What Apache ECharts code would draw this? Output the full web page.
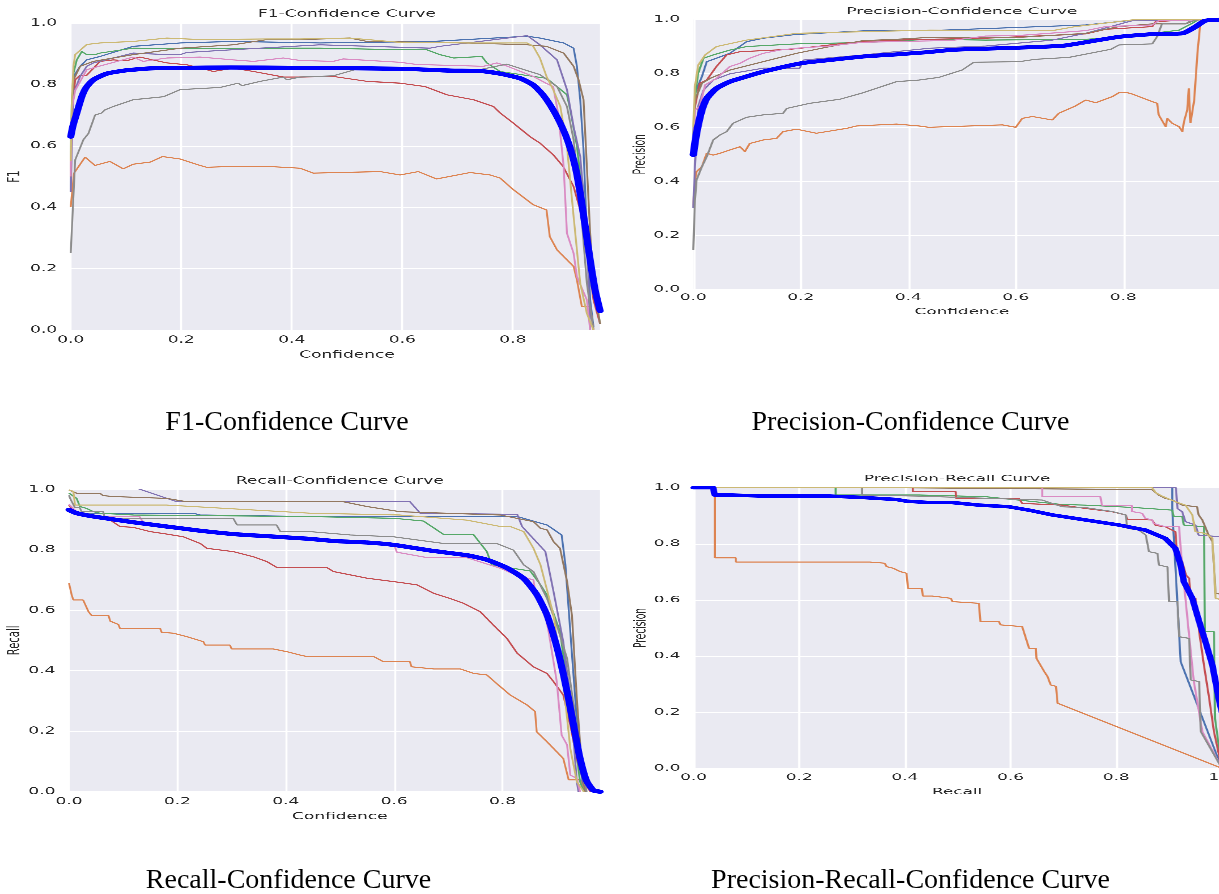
<!DOCTYPE html>
<html>
<head>
<meta charset="utf-8">
<script src="https://cdn.jsdelivr.net/npm/echarts@6/dist/echarts.min.js"></script>
<style>
html, body { margin: 0; padding: 0; width: 1219px; height: 894px; overflow: hidden; background: #fff; }
#captions { position: absolute; left: 0; top: 0; width: 1219px; height: 894px; }
.panel { position: absolute; transform-origin: 0 0; }
</style>
</head>
<body>
<div id="captions"></div>
<div id="p1" class="panel"></div>
<div id="p2" class="panel"></div>
<div id="p3" class="panel"></div>
<div id="p4" class="panel"></div>
<script>
// class colours (seaborn deep), thick blue = all classes
const classColors = ['#4C72B0', '#DD8452', '#55A868', '#C44E52', '#8172B3', '#937860', '#DA8BC3', '#8C8C8C', '#CCB974'];
const allColor = '#0000FF';
const textColor = '#262626';
const tickValues = [0, 0.2, 0.4, 0.6, 0.8, 1.0];

const panelTitles = ['F1-Confidence Curve', 'Precision-Confidence Curve', 'Recall-Confidence Curve', 'Precision-Recall Curve'];
const xNames = ['Confidence', 'Confidence', 'Confidence', 'Recall'];
const yNames = ['F1', 'Precision', 'Recall', 'Precision'];
const captions = ['F1-Confidence Curve', 'Precision-Confidence Curve', 'Recall-Confidence Curve', 'Precision-Recall-Confidence Curve'];

// ---- F1 - confidence ----
const f1All = [[0,0.63],[0.004,0.665],[0.011,0.707],[0.02,0.76],[0.028,0.79],[0.041,0.815],[0.065,0.835],[0.101,0.846],[0.144,0.852],[0.2,0.854],[0.29,0.855],[0.415,0.854],[0.596,0.851],[0.687,0.845],[0.74,0.844],[0.777,0.835],[0.813,0.82],[0.837,0.798],[0.855,0.765],[0.873,0.717],[0.889,0.662],[0.901,0.608],[0.913,0.532],[0.922,0.445],[0.931,0.337],[0.94,0.228],[0.949,0.13],[0.958,0.062]];
const f1Cls0 = [[0,0.45],[0.002,0.72],[0.005,0.826],[0.017,0.859],[0.029,0.88],[0.053,0.891],[0.113,0.924],[0.198,0.935],[0.294,0.94],[0.451,0.935],[0.656,0.94],[0.826,0.957],[0.849,0.951],[0.892,0.935],[0.91,0.918],[0.916,0.859],[0.922,0.75],[0.928,0.587],[0.934,0.315],[0.94,0.098],[0.946,0.01]];
const f1Cls1 = [[0,0.40],[0.003,0.46],[0.006,0.511],[0.026,0.563],[0.044,0.536],[0.071,0.549],[0.095,0.525],[0.113,0.54],[0.144,0.547],[0.166,0.565],[0.198,0.557],[0.234,0.536],[0.246,0.53],[0.294,0.533],[0.355,0.533],[0.415,0.527],[0.439,0.511],[0.56,0.516],[0.596,0.505],[0.629,0.516],[0.662,0.492],[0.723,0.513],[0.759,0.505],[0.777,0.495],[0.801,0.457],[0.837,0.408],[0.861,0.391],[0.867,0.304],[0.88,0.261],[0.91,0.207],[0.916,0.163],[0.925,0.076],[0.94,0.076],[0.946,0]];
const f1Cls2 = [[0,0.55],[0.002,0.75],[0.005,0.837],[0.011,0.88],[0.02,0.907],[0.029,0.897],[0.044,0.897],[0.053,0.902],[0.113,0.918],[0.234,0.916],[0.355,0.918],[0.451,0.918],[0.596,0.913],[0.644,0.913],[0.668,0.897],[0.693,0.886],[0.744,0.891],[0.753,0.87],[0.777,0.842],[0.837,0.826],[0.861,0.82],[0.88,0.793],[0.898,0.766],[0.904,0.717],[0.916,0.6],[0.928,0.402],[0.94,0.207],[0.952,0.076],[0.958,0.02]];
const f1Cls3 = [[0,0.5],[0.002,0.70],[0.008,0.815],[0.017,0.83],[0.029,0.83],[0.053,0.875],[0.077,0.88],[0.101,0.877],[0.125,0.889],[0.174,0.87],[0.21,0.864],[0.246,0.848],[0.258,0.842],[0.294,0.853],[0.331,0.842],[0.385,0.824],[0.415,0.824],[0.475,0.826],[0.536,0.81],[0.596,0.804],[0.641,0.793],[0.681,0.766],[0.729,0.75],[0.765,0.728],[0.777,0.707],[0.801,0.674],[0.831,0.63],[0.849,0.609],[0.873,0.571],[0.891,0.533],[0.91,0.467],[0.922,0.391],[0.934,0.261],[0.946,0.098],[0.958,0.02]];
const f1Cls4 = [[0,0.45],[0.002,0.6],[0.005,0.77],[0.017,0.826],[0.029,0.859],[0.041,0.87],[0.113,0.902],[0.174,0.897],[0.198,0.897],[0.21,0.904],[0.294,0.913],[0.451,0.929],[0.65,0.918],[0.668,0.924],[0.826,0.959],[0.849,0.929],[0.88,0.88],[0.898,0.783],[0.91,0.663],[0.922,0.565],[0.934,0.315],[0.94,0]];
const f1Cls5 = [[0,0.5],[0.002,0.7],[0.005,0.815],[0.017,0.859],[0.041,0.875],[0.113,0.897],[0.198,0.918],[0.294,0.929],[0.355,0.946],[0.415,0.946],[0.505,0.951],[0.536,0.94],[0.717,0.935],[0.826,0.929],[0.861,0.924],[0.892,0.902],[0.91,0.859],[0.919,0.815],[0.928,0.75],[0.934,0.533],[0.94,0.315],[0.946,0.152],[0.958,0.02]];
const f1Cls6 = [[0,0.5],[0.002,0.72],[0.008,0.78],[0.029,0.848],[0.053,0.86],[0.113,0.889],[0.131,0.875],[0.174,0.886],[0.234,0.889],[0.294,0.88],[0.331,0.875],[0.385,0.886],[0.415,0.878],[0.475,0.875],[0.493,0.883],[0.596,0.872],[0.626,0.865],[0.747,0.859],[0.771,0.87],[0.789,0.86],[0.837,0.826],[0.86,0.804],[0.873,0.793],[0.882,0.707],[0.892,0.533],[0.898,0.315],[0.91,0.25],[0.916,0.174],[0.934,0.098],[0.94,0]];
const f1Cls7 = [[0,0.25],[0.008,0.554],[0.023,0.62],[0.032,0.64],[0.044,0.70],[0.056,0.707],[0.062,0.717],[0.077,0.728],[0.113,0.75],[0.168,0.76],[0.198,0.783],[0.27,0.79],[0.303,0.804],[0.31,0.796],[0.343,0.81],[0.385,0.824],[0.391,0.815],[0.415,0.824],[0.475,0.828],[0.524,0.853],[0.596,0.848],[0.693,0.848],[0.74,0.848],[0.789,0.866],[0.831,0.842],[0.849,0.832],[0.88,0.793],[0.898,0.728],[0.91,0.62],[0.922,0.424],[0.934,0.152],[0.946,0]];
const f1Cls8 = [[0,0.55],[0.002,0.75],[0.005,0.86],[0.008,0.897],[0.014,0.90],[0.029,0.93],[0.053,0.935],[0.113,0.94],[0.174,0.951],[0.234,0.946],[0.355,0.948],[0.415,0.948],[0.505,0.951],[0.596,0.937],[0.717,0.935],[0.826,0.935],[0.837,0.924],[0.849,0.886],[0.861,0.826],[0.873,0.783],[0.886,0.728],[0.898,0.598],[0.91,0.37],[0.922,0.152],[0.934,0.054],[0.946,0]];

// ---- precision - confidence ----
const pcAll = [[0,0.498],[0.006,0.578],[0.016,0.664],[0.025,0.707],[0.043,0.744],[0.068,0.769],[0.099,0.788],[0.13,0.806],[0.2,0.837],[0.254,0.849],[0.316,0.862],[0.378,0.87],[0.44,0.879],[0.482,0.887],[0.606,0.895],[0.687,0.902],[0.73,0.915],[0.792,0.935],[0.854,0.945],[0.91,0.948],[0.935,0.973],[0.953,0.995],[1.0,1.0]];
const pcCls0 = [[0,0.55],[0.003,0.726],[0.016,0.788],[0.025,0.843],[0.043,0.856],[0.068,0.874],[0.099,0.917],[0.13,0.93],[0.192,0.944],[0.316,0.957],[0.44,0.958],[0.73,0.979],[0.81,0.995],[1.0,1.0]];
const pcCls1 = [[0,0.306],[0.003,0.405],[0.006,0.436],[0.016,0.454],[0.025,0.504],[0.031,0.51],[0.037,0.497],[0.05,0.504],[0.068,0.516],[0.087,0.528],[0.096,0.51],[0.105,0.54],[0.13,0.553],[0.155,0.559],[0.167,0.584],[0.192,0.593],[0.229,0.578],[0.254,0.586],[0.285,0.596],[0.304,0.605],[0.378,0.612],[0.42,0.605],[0.438,0.6],[0.575,0.609],[0.6,0.6],[0.612,0.633],[0.631,0.64],[0.668,0.627],[0.68,0.652],[0.711,0.679],[0.73,0.701],[0.749,0.691],[0.78,0.714],[0.792,0.728],[0.808,0.728],[0.817,0.723],[0.854,0.695],[0.863,0.689],[0.866,0.646],[0.879,0.602],[0.882,0.633],[0.891,0.615],[0.904,0.602],[0.91,0.584],[0.913,0.621],[0.919,0.664],[0.922,0.744],[0.925,0.615],[0.932,0.701],[0.938,0.874],[0.944,0.998],[1.0,1.0]];
const pcCls2 = [[0,0.5],[0.003,0.714],[0.009,0.8],[0.019,0.856],[0.037,0.868],[0.068,0.886],[0.099,0.899],[0.192,0.909],[0.316,0.914],[0.44,0.926],[0.544,0.923],[0.73,0.926],[0.817,0.936],[0.854,0.948],[0.904,0.96],[0.928,0.985],[0.941,1.0],[1.0,1.0]];
const pcCls3 = [[0,0.5],[0.003,0.677],[0.012,0.763],[0.025,0.775],[0.043,0.825],[0.062,0.868],[0.087,0.88],[0.13,0.884],[0.18,0.889],[0.229,0.899],[0.279,0.911],[0.316,0.917],[0.378,0.923],[0.44,0.926],[0.544,0.93],[0.73,0.946],[0.767,0.963],[0.854,0.973],[0.86,0.991],[0.935,1.0],[1.0,1.0]];
const pcCls4 = [[0,0.3],[0.003,0.454],[0.009,0.677],[0.019,0.738],[0.037,0.775],[0.068,0.798],[0.13,0.819],[0.198,0.819],[0.205,0.849],[0.316,0.868],[0.44,0.893],[0.544,0.901],[0.668,0.923],[0.73,0.948],[0.817,0.995],[1.0,1.0]];
const pcCls5 = [[0,0.55],[0.003,0.7],[0.016,0.763],[0.031,0.781],[0.068,0.812],[0.13,0.843],[0.192,0.874],[0.254,0.899],[0.316,0.921],[0.378,0.926],[0.44,0.933],[0.606,0.933],[0.73,0.948],[0.792,0.973],[0.854,0.983],[0.916,0.983],[0.935,0.998],[1.0,1.0]];
const pcCls6 = [[0,0.5],[0.003,0.664],[0.012,0.677],[0.022,0.757],[0.043,0.781],[0.068,0.825],[0.087,0.837],[0.105,0.856],[0.13,0.874],[0.161,0.886],[0.192,0.893],[0.254,0.901],[0.316,0.915],[0.44,0.92],[0.482,0.922],[0.544,0.938],[0.606,0.94],[0.73,0.958],[0.767,0.973],[0.854,0.979],[0.866,0.995],[1.0,1.0]];
const pcCls7 = [[0,0.146],[0.003,0.33],[0.006,0.405],[0.016,0.454],[0.025,0.491],[0.037,0.553],[0.05,0.572],[0.062,0.584],[0.074,0.615],[0.099,0.637],[0.13,0.646],[0.167,0.652],[0.174,0.67],[0.217,0.689],[0.273,0.704],[0.316,0.728],[0.378,0.769],[0.42,0.775],[0.457,0.785],[0.5,0.812],[0.522,0.841],[0.606,0.843],[0.637,0.852],[0.699,0.859],[0.777,0.889],[0.792,0.905],[0.854,0.909],[0.863,0.936],[0.872,0.983],[0.916,0.983],[0.922,0.991],[0.941,0.998],[1.0,1.0]];
const pcCls8 = [[0,0.6],[0.003,0.75],[0.009,0.83],[0.022,0.868],[0.043,0.899],[0.099,0.923],[0.192,0.948],[0.316,0.954],[0.44,0.96],[0.668,0.958],[0.711,0.973],[0.817,0.998],[1.0,1.0]];

// ---- recall - confidence ----
const rcAll = [[0,0.932],[0.014,0.921],[0.045,0.91],[0.076,0.902],[0.119,0.891],[0.18,0.877],[0.242,0.863],[0.303,0.852],[0.365,0.845],[0.445,0.836],[0.488,0.829],[0.55,0.824],[0.6,0.816],[0.673,0.796],[0.734,0.782],[0.771,0.767],[0.808,0.74],[0.839,0.705],[0.863,0.652],[0.882,0.584],[0.9,0.48],[0.912,0.39],[0.922,0.305],[0.931,0.22],[0.943,0.11],[0.955,0.036],[0.968,0.004],[0.98,0]];
const rcCls0 = [[0,0.935],[0.014,0.926],[0.03,0.921],[0.229,0.921],[0.242,0.915],[0.445,0.91],[0.827,0.91],[0.833,0.904],[0.882,0.882],[0.909,0.849],[0.916,0.75],[0.925,0.529],[0.934,0.309],[0.943,0.088],[0.95,0]];
const rcCls1 = [[0,0.689],[0.005,0.65],[0.008,0.634],[0.026,0.634],[0.036,0.595],[0.042,0.582],[0.073,0.582],[0.076,0.564],[0.091,0.553],[0.094,0.54],[0.168,0.54],[0.171,0.527],[0.193,0.524],[0.217,0.513],[0.248,0.496],[0.251,0.485],[0.297,0.485],[0.3,0.472],[0.377,0.472],[0.402,0.463],[0.426,0.452],[0.439,0.447],[0.562,0.447],[0.58,0.43],[0.629,0.43],[0.632,0.413],[0.673,0.406],[0.722,0.406],[0.747,0.391],[0.771,0.386],[0.796,0.347],[0.814,0.32],[0.845,0.287],[0.86,0.265],[0.863,0.198],[0.882,0.165],[0.894,0.143],[0.912,0.11],[0.922,0.039],[0.943,0.039],[0.95,0.006],[0.955,0]];
const rcCls2 = [[0,0.987],[0.014,0.97],[0.02,0.943],[0.032,0.937],[0.045,0.926],[0.057,0.921],[0.119,0.915],[0.445,0.91],[0.6,0.904],[0.654,0.895],[0.691,0.851],[0.746,0.851],[0.771,0.794],[0.78,0.75],[0.796,0.745],[0.851,0.73],[0.87,0.684],[0.882,0.65],[0.906,0.529],[0.919,0.364],[0.931,0.198],[0.943,0.033],[0.95,0]];
const rcCls3 = [[0,0.948],[0.008,0.926],[0.026,0.915],[0.057,0.904],[0.076,0.898],[0.094,0.877],[0.119,0.874],[0.15,0.86],[0.18,0.852],[0.211,0.843],[0.242,0.821],[0.254,0.805],[0.303,0.794],[0.34,0.777],[0.365,0.761],[0.383,0.742],[0.476,0.741],[0.488,0.728],[0.55,0.706],[0.611,0.692],[0.642,0.684],[0.673,0.656],[0.703,0.639],[0.728,0.623],[0.759,0.595],[0.783,0.551],[0.808,0.507],[0.827,0.458],[0.857,0.413],[0.882,0.391],[0.894,0.364],[0.912,0.32],[0.925,0.22],[0.937,0.11],[0.95,0.033],[0.962,0]];
const rcCls4 = [[0,1.07],[0.131,1.0],[0.199,0.959],[0.629,0.959],[0.648,0.921],[0.827,0.917],[0.836,0.877],[0.879,0.794],[0.894,0.662],[0.912,0.496],[0.925,0.309],[0.937,0.033],[0.94,0]];
const rcCls5 = [[0,0.998],[0.014,0.987],[0.057,0.987],[0.063,0.979],[0.082,0.976],[0.18,0.97],[0.217,0.959],[0.506,0.959],[0.55,0.943],[0.611,0.926],[0.796,0.915],[0.857,0.893],[0.87,0.871],[0.882,0.866],[0.894,0.827],[0.906,0.805],[0.919,0.695],[0.928,0.584],[0.937,0.309],[0.946,0.088],[0.952,0]];
const rcCls6 = [[0,0.95],[0.014,0.926],[0.045,0.915],[0.057,0.91],[0.13,0.91],[0.138,0.888],[0.18,0.877],[0.242,0.866],[0.303,0.855],[0.426,0.836],[0.488,0.834],[0.6,0.816],[0.605,0.792],[0.661,0.774],[0.734,0.774],[0.796,0.739],[0.82,0.72],[0.857,0.7],[0.86,0.662],[0.876,0.606],[0.885,0.529],[0.9,0.364],[0.909,0.187],[0.919,0.155],[0.925,0.055],[0.937,0.044],[0.943,0]];
const rcCls7 = [[0,0.98],[0.002,0.97],[0.011,0.939],[0.02,0.939],[0.023,0.926],[0.063,0.926],[0.066,0.904],[0.303,0.904],[0.31,0.882],[0.383,0.882],[0.39,0.86],[0.445,0.86],[0.519,0.849],[0.599,0.843],[0.691,0.821],[0.789,0.821],[0.82,0.799],[0.839,0.75],[0.857,0.728],[0.882,0.639],[0.9,0.551],[0.919,0.441],[0.931,0.287],[0.943,0.132],[0.955,0]];
const rcCls8 = [[0,0.998],[0.008,0.993],[0.011,0.948],[0.18,0.948],[0.445,0.921],[0.611,0.915],[0.734,0.898],[0.796,0.877],[0.814,0.877],[0.839,0.86],[0.857,0.805],[0.87,0.75],[0.894,0.584],[0.912,0.364],[0.925,0.143],[0.937,0.033],[0.95,0]];

// ---- precision - recall ----
const prAll = [[0,1],[0.037,1],[0.04,0.974],[0.069,0.974],[0.132,0.97],[0.258,0.97],[0.321,0.965],[0.384,0.958],[0.403,0.952],[0.447,0.947],[0.49,0.947],[0.54,0.938],[0.597,0.932],[0.635,0.92],[0.679,0.903],[0.742,0.885],[0.805,0.867],[0.855,0.849],[0.893,0.819],[0.912,0.784],[0.922,0.724],[0.928,0.665],[0.944,0.606],[0.957,0.523],[0.969,0.451],[0.982,0.368],[0.988,0.309],[0.994,0.249],[1.0,0.2]];
const prCls0 = [[0,1],[0.906,1],[0.906,0.926],[0.922,0.38],[1.0,0.0]];
const prCls1 = [[0.0405,1],[0.0405,0.75],[0.08,0.75],[0.08,0.735],[0.334,0.735],[0.337,0.731],[0.362,0.731],[0.365,0.719],[0.378,0.713],[0.391,0.701],[0.403,0.695],[0.406,0.641],[0.432,0.641],[0.434,0.614],[0.452,0.614],[0.487,0.606],[0.49,0.594],[0.54,0.588],[0.543,0.523],[0.578,0.523],[0.581,0.511],[0.622,0.505],[0.635,0.428],[0.648,0.428],[0.649,0.392],[0.664,0.344],[0.67,0.327],[0.676,0.297],[0.686,0.292],[0.689,0.232],[1.0,0.0]];
const prCls2 = [[0,1],[0.269,1],[0.269,0.974],[0.427,0.974],[0.553,0.968],[0.559,0.962],[0.698,0.94],[0.742,0.938],[0.837,0.929],[0.843,0.926],[0.906,0.92],[0.909,0.897],[0.925,0.897],[0.928,0.867],[0.966,0.861],[0.968,0.487],[0.985,0.487],[0.987,0.178],[1.0,0.0]];
const prCls3 = [[0,1],[0.415,1],[0.415,0.986],[0.496,0.986],[0.497,0.962],[0.616,0.962],[0.622,0.944],[0.698,0.938],[0.742,0.926],[0.793,0.914],[0.818,0.903],[0.821,0.888],[0.868,0.885],[0.875,0.865],[0.893,0.861],[0.912,0.843],[0.916,0.748],[0.925,0.736],[0.932,0.689],[0.938,0.677],[0.941,0.612],[0.95,0.606],[0.957,0.487],[0.966,0.368],[0.976,0.249],[0.985,0.131],[1.0,0.0]];
const prCls4 = [[0,1],[0.913,1],[0.916,0.926],[0.925,0.914],[0.931,0.879],[0.95,0.867],[0.956,0.831],[1.0,0.825]];
const prCls5 = [[0,1],[0.384,1],[0.384,0.993],[0.868,0.993],[0.88,0.974],[0.893,0.962],[0.906,0.956],[0.925,0.938],[0.953,0.932],[0.956,0.903],[0.963,0.885],[0.975,0.831],[0.982,0.808],[0.985,0.724],[0.988,0.623],[1.0,0.62]];
const prCls6 = [[0,1],[0.66,1],[0.66,0.968],[0.77,0.968],[0.773,0.938],[0.83,0.936],[0.83,0.915],[0.849,0.909],[0.855,0.891],[0.868,0.885],[0.871,0.873],[0.881,0.867],[0.893,0.861],[0.919,0.861],[0.922,0.784],[0.931,0.606],[0.941,0.416],[0.947,0.309],[0.963,0.131],[1.0,0.0]];
const prCls7 = [[0,1],[0.319,1],[0.319,0.974],[0.427,0.97],[0.66,0.956],[0.698,0.932],[0.742,0.929],[0.793,0.915],[0.818,0.903],[0.821,0.855],[0.843,0.849],[0.856,0.831],[0.862,0.772],[0.878,0.766],[0.881,0.724],[0.897,0.718],[0.9,0.594],[0.916,0.594],[0.919,0.469],[0.938,0.463],[0.941,0.315],[0.957,0.309],[0.96,0.131],[1.0,0.0]];
const prCls8 = [[0,1],[0.868,1],[0.875,0.982],[0.887,0.97],[0.912,0.95],[0.931,0.938],[0.944,0.903],[0.95,0.843],[0.969,0.837],[0.982,0.82],[0.985,0.724],[0.988,0.606],[1.0,0.6]];

const fmt = v => v.toFixed(1);

// the source figure is stretched sideways, so each panel is drawn narrow and scaled in x
function drawPanel(id, cfg) {
    const el = document.getElementById(id);
    el.style.left = cfg.left + 'px';
    el.style.top = cfg.top + 'px';
    el.style.width = cfg.width + 'px';
    el.style.height = cfg.height + 'px';
    el.style.transform = `scaleX(${cfg.stretch})`;
    // render finer than the screen so the x-stretch does not show pixel steps
    const chart = echarts.init(el, null, { devicePixelRatio: 3 });
    const font = `${cfg.font}px "DejaVu Sans"`;

    const series = cfg.curves.map((d, i) => ({
        type: 'line',
        data: d,
        showSymbol: false,
        silent: true,
        lineStyle: { width: 1.1, color: classColors[i] },
        itemStyle: { color: classColors[i] },
    }));
    series.push({
        type: 'line',
        data: cfg.all,
        showSymbol: false,
        silent: true,
        smooth: cfg.smooth,
        z: 5,
        lineStyle: { width: cfg.allWidth, color: allColor, join: 'round', cap: 'round' },
        itemStyle: { color: allColor },
    });

    const axisCommon = {
        type: 'value',
        interval: 0.2,
        axisLine: { show: false },
        axisTick: { show: false },
        splitLine: { lineStyle: { color: '#ffffff', width: 1.2 } },
    };

    const textStyle = { fill: textColor, font, textAlign: 'center', textVerticalAlign: 'middle', align: 'center', verticalAlign: 'middle' };

    chart.setOption({
        animation: false,
        textStyle: { fontFamily: 'DejaVu Sans' },
        grid: {
            left: cfg.gridLeft, top: cfg.gridTop, width: cfg.gridWidth, height: cfg.gridHeight,
            show: true, backgroundColor: '#EAEAF2', borderWidth: 0,
        },
        xAxis: {
            ...axisCommon,
            min: tickValues[0],
            max: cfg.xMax,
            axisLabel: {
                margin: cfg.xMargin, color: textColor, fontSize: cfg.font,
                formatter: fmt, showMaxLabel: cfg.showMaxX,
            },
        },
        yAxis: {
            ...axisCommon,
            min: tickValues[0],
            max: tickValues[tickValues.length - 1],
            axisLabel: { margin: cfg.yMargin, color: textColor, fontSize: cfg.font, formatter: fmt },
        },
        graphic: [
            { type: 'text', x: cfg.titleX, y: cfg.titleY, style: { ...textStyle, text: cfg.title } },
            { type: 'text', x: cfg.titleX, y: cfg.xNameY, style: { ...textStyle, text: cfg.xName } },
            { type: 'text', x: cfg.yNameX, y: cfg.yNameY, rotation: Math.PI / 2, style: { ...textStyle, text: cfg.yName } },
        ],
        series,
    });
}

drawPanel('p1', {
    left: 0, top: 0, width: 360, height: 375, stretch: 1.7, font: 10,
    gridLeft: 41.6, gridTop: 23, gridWidth: 311.4, gridHeight: 307, xMax: 0.958, showMaxX: false,
    xMargin: 5, yMargin: 8,
    title: panelTitles[0], xName: xNames[0], yName: yNames[0],
    titleX: 204.1, titleY: 14, xNameY: 355, yNameX: 8.8, yNameY: 176.5,
    curves: [f1Cls0, f1Cls1, f1Cls2, f1Cls3, f1Cls4, f1Cls5, f1Cls6, f1Cls7, f1Cls8],
    all: f1All, allWidth: 4.2, smooth: 0.2,
});

drawPanel('p2', {
    left: 630, top: 0, width: 330, height: 330, stretch: 1.87, font: 9,
    gridLeft: 33.85, gridTop: 19.3, gridWidth: 287.4, gridHeight: 270, xMax: 1.0, showMaxX: false,
    xMargin: 4, yMargin: 7,
    title: panelTitles[1], xName: xNames[1], yName: yNames[1],
    titleX: 177.5, titleY: 11.5, xNameY: 312, yNameX: 5.6, yNameY: 154.3,
    curves: [pcCls0, pcCls1, pcCls2, pcCls3, pcCls4, pcCls5, pcCls6, pcCls7, pcCls8],
    all: pcAll, allWidth: 4, smooth: 0.2,
});

drawPanel('p3', {
    left: 0, top: 465, width: 360, height: 375, stretch: 1.7, font: 10,
    gridLeft: 40.6, gridTop: 24.3, gridWidth: 312.4, gridHeight: 302.4, xMax: 0.98, showMaxX: false,
    xMargin: 5, yMargin: 8,
    title: panelTitles[2], xName: xNames[2], yName: yNames[2],
    titleX: 199.9, titleY: 16, xNameY: 351.7, yNameX: 8.8, yNameY: 175.5,
    curves: [rcCls0, rcCls1, rcCls2, rcCls3, rcCls4, rcCls5, rcCls6, rcCls7, rcCls8],
    all: rcAll, allWidth: 4.2, smooth: 0.2,
});

drawPanel('p4', {
    left: 630, top: 465, width: 330, height: 375, stretch: 1.87, font: 9,
    gridLeft: 34, gridTop: 22.7, gridWidth: 282.5, gridHeight: 280.6, xMax: 1.0, showMaxX: true,
    xMargin: 5, yMargin: 7,
    title: panelTitles[3], xName: xNames[3], yName: yNames[3],
    titleX: 174.9, titleY: 14, xNameY: 327, yNameX: 5.9, yNameY: 163,
    curves: [prCls0, prCls1, prCls2, prCls3, prCls4, prCls5, prCls6, prCls7, prCls8],
    all: prAll, allWidth: 3.5, smooth: false,
});

// captions under the panels
const captionChart = echarts.init(document.getElementById('captions'));
const captionPos = [[287, 423], [910.5, 423], [288.5, 881], [910.5, 881]];
captionChart.setOption({
    animation: false,
    graphic: captions.map((t, i) => ({
        type: 'text', x: captionPos[i][0], y: captionPos[i][1],
        style: { text: t, fill: '#000000', font: '28px "Liberation Serif"', textAlign: 'center', textVerticalAlign: 'middle', align: 'center', verticalAlign: 'middle' },
    })),
});
</script>
</body>
</html>
